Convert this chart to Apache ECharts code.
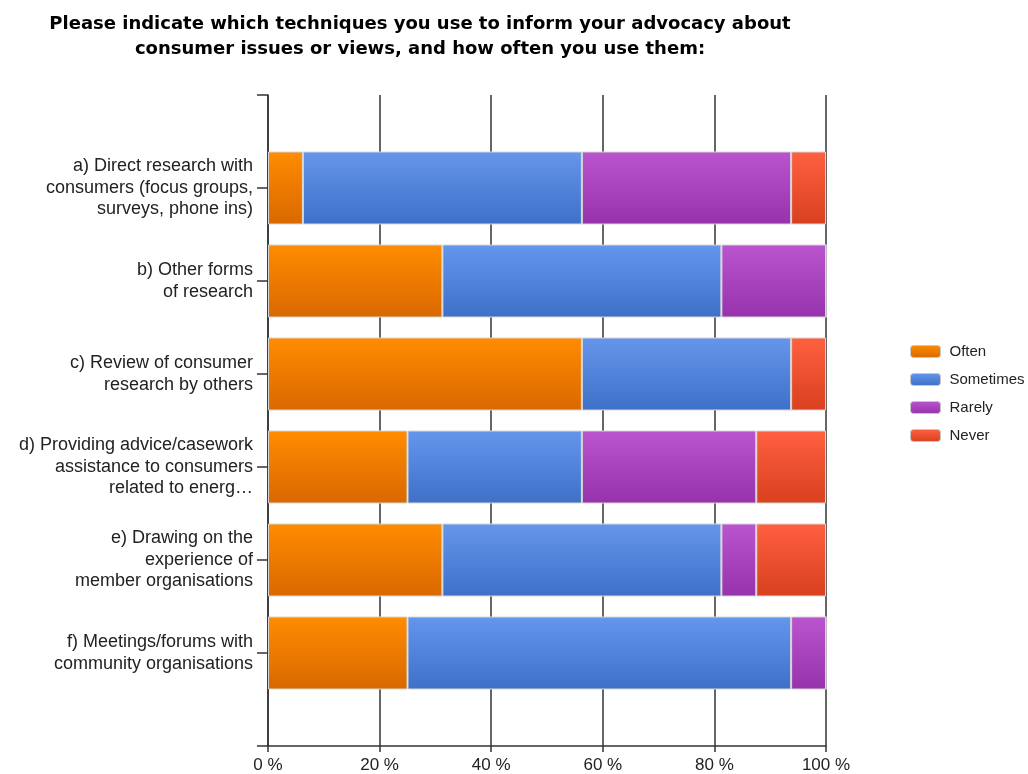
<!DOCTYPE html>
<html>
<head>
<meta charset="utf-8">
<script src="https://cdn.jsdelivr.net/npm/echarts@6/dist/echarts.min.js"></script>
<style>
  html, body { margin: 0; padding: 0; background: #fff; }
  #chart { width: 1028px; height: 774px; }
</style>
</head>
<body>
<div id="chart"></div>
<script>
var categories = [
    'a) Direct research with\nconsumers (focus groups,\nsurveys, phone ins)',
    'b) Other forms\nof research',
    'c) Review of consumer\nresearch by others',
    'd) Providing advice/casework\nassistance to consumers\nrelated to energ\u2026',
    'e) Drawing on the\nexperience of\nmember organisations',
    'f) Meetings/forums with\ncommunity organisations'
];
var often = [6.25, 31.25, 56.25, 25, 31.25, 25];
var sometimes = [50, 50, 37.5, 31.25, 50, 68.75];
var rarely = [37.5, 18.75, 0, 31.25, 6.25, 6.25];
var never = [6.25, 0, 6.25, 12.5, 12.5, 0];
var xTicks = [0, 20, 40, 60, 80, 100];

var chart = echarts.init(document.getElementById('chart'));

function grad(top, bottom) {
    return new echarts.graphic.LinearGradient(0, 0, 0, 1, [
        { offset: 0, color: top },
        { offset: 1, color: bottom }
    ]);
}

// pad with empty slots so the bars sit between the axis ends
function pad(arr) {
    return [null].concat(arr, [null]);
}

function makeSeries(name, data, top, bottom) {
    return {
        name: name,
        type: 'bar',
        stack: 'all',
        barWidth: 73,
        data: pad(data),
        itemStyle: {
            color: grad(top, bottom),
            borderColor: '#d6d6d6',
            borderWidth: 1
        }
    };
}

var option = {
    backgroundColor: '#fff',
    animation: false,
    title: {
        text: 'Please indicate which techniques you use to inform your advocacy about\nconsumer issues or views, and how often you use them:',
        left: 415,
        top: 7,
        textAlign: 'center',
        textStyle: {
            fontFamily: 'DejaVu Sans',
            fontWeight: 'bold',
            fontSize: 18,
            lineHeight: 25,
            color: '#000'
        }
    },
    legend: {
        orient: 'vertical',
        left: 905,
        top: 339,
        itemWidth: 30,
        itemHeight: 12,
        itemGap: 13,
        data: ['Often', 'Sometimes', 'Rarely', 'Never'],
        itemStyle: { borderColor: '#c8c8c8', borderWidth: 1 },
        textStyle: {
            fontFamily: 'Liberation Sans',
            fontSize: 15,
            color: '#222',
            padding: [0, 0, 0, 4]
        }
    },
    grid: {
        left: 268,
        right: 202,
        top: 95,
        bottom: 28,
        containLabel: false
    },
    xAxis: {
        type: 'value',
        min: xTicks[0],
        max: xTicks[xTicks.length - 1],
        interval: 20,
        axisLine: { show: true, lineStyle: { color: '#333', width: 1.5 } },
        axisTick: { show: true, length: 6, lineStyle: { color: '#333', width: 1.5 } },
        splitLine: { show: true, lineStyle: { color: '#333', width: 1.5 } },
        axisLabel: {
            formatter: '{value} %',
            margin: 11,
            fontFamily: 'Liberation Sans',
            fontSize: 17,
            color: '#222'
        }
    },
    yAxis: {
        type: 'category',
        inverse: true,
        boundaryGap: false,
        data: [''].concat(categories, ['']),
        axisLine: { show: true, lineStyle: { color: '#333', width: 1.5 } },
        axisTick: { show: true, length: 11, lineStyle: { color: '#333', width: 1.5 } },
        axisLabel: {
            margin: 15,
            fontFamily: 'Liberation Sans',
            fontSize: 18,
            lineHeight: 21.5,
            align: 'right',
            color: '#222'
        }
    },
    series: [
        makeSeries('Often', often, '#ff8c00', '#d96800'),
        makeSeries('Sometimes', sometimes, '#6596ec', '#3e70c8'),
        makeSeries('Rarely', rarely, '#bb55cf', '#9632ac'),
        makeSeries('Never', never, '#ff6040', '#d8401e')
    ]
};

chart.setOption(option);
window.addEventListener('resize', function () {
    chart.resize();
});
</script>
</body>
</html>
